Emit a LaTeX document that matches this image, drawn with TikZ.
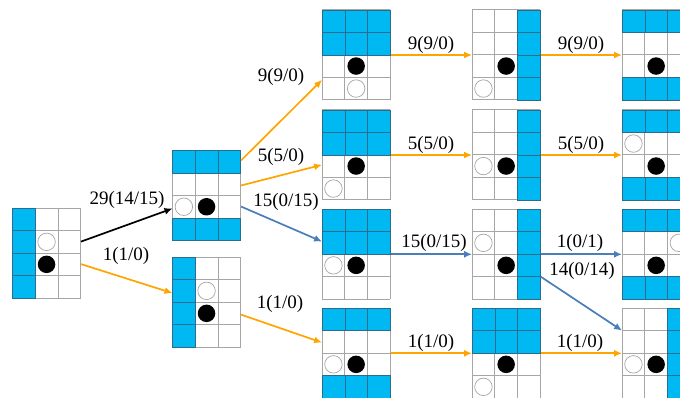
\documentclass[tikz,border=0pt]{standalone}
\usepackage{fontspec}
\setmainfont{Liberation Serif}
\usetikzlibrary{arrows.meta,calc}
\definecolor{cellblue}{HTML}{00B9F2}
\definecolor{celledge}{HTML}{2A6C8A}
\definecolor{gridgray}{HTML}{A6A6A6}
\definecolor{arrorange}{HTML}{FFA500}
\definecolor{arrblue}{HTML}{4A7EBB}
\tikzset{
  board/.style={draw=none, minimum width=68.1pt, minimum height=90pt, inner sep=0pt},
  gline/.style={draw=gridgray, line width=0.8pt},
  bcell/.style={fill=cellblue, draw=celledge, line width=0.5pt},
  wstone/.style={circle, draw=gridgray, fill=white, line width=0.7pt, minimum size=17.5pt, inner sep=0pt},
  bstone/.style={circle, fill=black, minimum size=17.5pt, inner sep=0pt},
  arrbase/.style={-{Latex[length=8pt,width=7pt]}, line width=1.7pt},
  karr/.style={arrbase, draw=black},
  oarr/.style={arrbase, draw=arrorange},
  barr/.style={arrbase, draw=arrblue},
  lab/.style={font=\fontsize{19}{21}\selectfont, inner sep=0pt}
}
\newcommand\myboard[4]{%
  \node[board] (#1) at ({#2+34.05},{#3+45}) {};
  \begin{scope}[shift={(#1.north west)}, x=22.7pt, y=-22.5pt]
    \foreach \i in {0,...,3} {\draw[gline] (\i,0) -- (\i,4);}
    \foreach \j in {0,...,4} {\draw[gline] (0,\j) -- (3,\j);}
    \foreach \c/\r in {#4} {\path[bcell] (\c-1,\r-1) rectangle (\c,\r);}
  \end{scope}}
\newcommand\wst[3]{\node[wstone] (#1w) at ($(#1.north west)+({(#2-0.5)*22.7},{(#3-0.5)*22.5})$) {};}
\newcommand\bst[3]{\node[bstone] (#1b) at ($(#1.north west)+({(#2-0.5)*22.7},{(#3-0.5)*22.5})$) {};}
\begin{document}
\begin{tikzpicture}[x=1pt, y=-1pt]
\useasboundingbox (0,0) rectangle (680,398);
% boards
\myboard{R}{12.7}{208.3}{1/1,1/2,1/3,1/4}
\wst{R}{2}{2}\bst{R}{2}{3}
\myboard{A}{172.7}{150.7}{1/1,2/1,3/1,1/4,2/4,3/4}
\wst{A}{1}{3}\bst{A}{2}{3}
\myboard{B}{172.7}{257.3}{1/1,1/2,1/3,1/4}
\wst{B}{2}{2}\bst{B}{2}{3}
\myboard{C1}{322.3}{10}{1/1,2/1,3/1,1/2,2/2,3/2}
\bst{C1}{2}{3}\wst{C1}{2}{4}
\myboard{C2}{322.3}{110}{1/1,2/1,3/1,1/2,2/2,3/2}
\bst{C2}{2}{3}\wst{C2}{1}{4}
\myboard{C3}{322.3}{209.3}{1/1,2/1,3/1,1/2,2/2,3/2}
\wst{C3}{1}{3}\bst{C3}{2}{3}
\myboard{C4}{322.3}{308.3}{1/1,2/1,3/1,1/4,2/4,3/4}
\wst{C4}{1}{3}\bst{C4}{2}{3}
\myboard{D1}{472.3}{10}{3/1,3/2,3/3,3/4}
\bst{D1}{2}{3}\wst{D1}{1}{4}
\myboard{D2}{472.3}{110}{3/1,3/2,3/3,3/4}
\wst{D2}{1}{3}\bst{D2}{2}{3}
\myboard{D3}{472.3}{209.3}{3/1,3/2,3/3,3/4}
\wst{D3}{1}{2}\bst{D3}{2}{3}
\myboard{D4}{472.3}{308.3}{1/1,2/1,3/1,1/2,2/2,3/2}
\bst{D4}{2}{3}\wst{D4}{1}{4}
\myboard{E1}{622.3}{10}{1/1,2/1,3/1,1/4,2/4,3/4}
\bst{E1}{2}{3}
\myboard{E2}{622.3}{110}{1/1,2/1,3/1,1/4,2/4,3/4}
\wst{E2}{1}{2}\bst{E2}{2}{3}
\myboard{E3}{622.3}{209.3}{1/1,2/1,3/1,1/4,2/4,3/4}
\wst{E3}{3}{2}\bst{E3}{2}{3}
\myboard{E4}{622.3}{308.3}{3/1,3/2,3/3,3/4}
\wst{E4}{1}{3}\bst{E4}{2}{3}
% connectors
\draw[karr] ($(R.north east)+(0,33.5)$) -- ($(A.north west)+(0,58)$);
\draw[oarr] ($(R.north east)+(0,56)$) -- ($(B.north west)+(0,36)$);
\draw[oarr] ($(A.north east)+(0,10)$) -- ($(C1.north west)+(0,70)$);
\draw[oarr] ($(A.north east)+(0,35)$) -- ($(C2.north west)+(0,55)$);
\draw[barr] ($(A.north east)+(0,56)$) -- ($(C3.north west)+(0,32.5)$);
\draw[oarr] ($(B.north east)+(0,57.5)$) -- ($(C4.north west)+(0,34.5)$);
\draw[oarr] (C1.east) -- (D1.west);
\draw[oarr] (D1.east) -- (E1.west);
\draw[oarr] (C2.east) -- (D2.west);
\draw[oarr] (D2.east) -- (E2.west);
\draw[barr] (C3.east) -- (D3.west);
\draw[barr] (D3.east) -- (E3.west);
\draw[barr] ($(D3.north east)+(0,67.5)$) -- ($(E4.north west)+(0,22.5)$);
\draw[oarr] (C4.east) -- (D4.west);
\draw[oarr] (D4.east) -- (E4.west);
% labels
\node[lab] (l1) at (127,200) {29(14/15)};
\node[lab] (l2) at (126,256) {1(1/0)};
\node[lab] (l3) at (281,77) {9(9/0)};
\node[lab] (l4) at (281,157) {5(5/0)};
\node[lab] (l5) at (286,202) {15(0/15)};
\node[lab] (l6) at (280,304) {1(1/0)};
\node[lab] (l7) at (431,45) {9(9/0)};
\node[lab] (l8) at (581,45) {9(9/0)};
\node[lab] (l9) at (431,145) {5(5/0)};
\node[lab] (l10) at (581,145) {5(5/0)};
\node[lab] (l11) at (434,243) {15(0/15)};
\node[lab] (l12) at (580,243) {1(0/1)};
\node[lab] (l13) at (582,271) {14(0/14)};
\node[lab] (l14) at (431,343) {1(1/0)};
\node[lab] (l15) at (580,343) {1(1/0)};
\end{tikzpicture}
\end{document}
